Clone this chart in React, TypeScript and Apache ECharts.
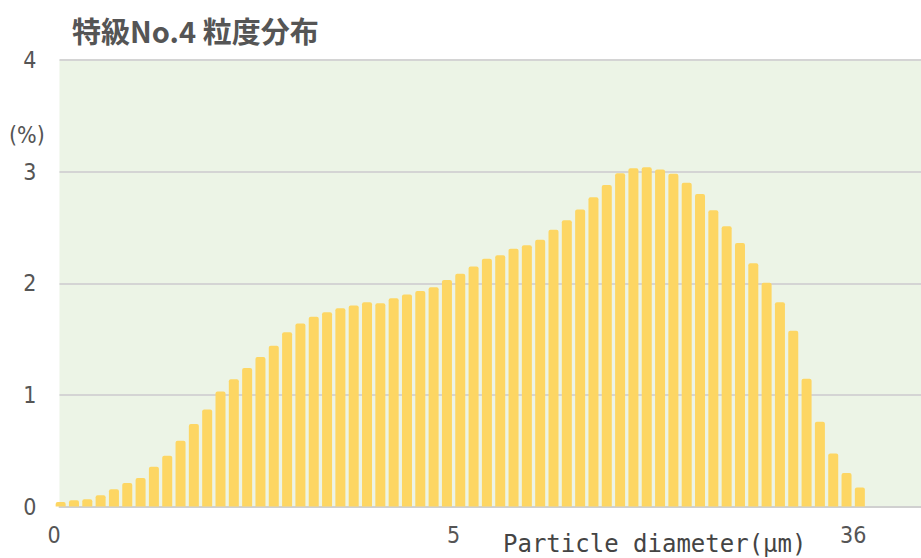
import React, { useEffect, useRef } from "react";
import * as echarts from "echarts";

// Particle size distribution (%), one value per size bin, left to right
const binValues: number[] = [
  0.04, 0.055, 0.065, 0.1, 0.155, 0.21, 0.255, 0.355, 0.455, 0.59,
  0.74, 0.87, 1.03, 1.14, 1.24, 1.34, 1.44, 1.56, 1.64, 1.7,
  1.74, 1.775, 1.8, 1.83, 1.82, 1.865, 1.9, 1.93, 1.965, 2.03,
  2.085, 2.15, 2.22, 2.25, 2.31, 2.34, 2.39, 2.48, 2.565, 2.66,
  2.77, 2.88, 2.985, 3.03, 3.04, 3.02, 2.98, 2.9, 2.8, 2.655,
  2.51, 2.36, 2.18, 2.005, 1.83, 1.575, 1.145, 0.76, 0.475, 0.3,
  0.17,
];

// x tick labels placed at bin boundaries
const xTickBoundaries: number[] = [0, 30, 60];
const xTickLabels: string[] = ["0", "5", "36"];

const yTicks: number[] = [0, 1, 2, 3, 4];

const titleText = "特級No.4 粒度分布";
const yUnitText = "(%)";
const xNameText = "Particle diameter(μm)";

const labelFont = "'Liberation Sans Narrow', 'DejaVu Sans Condensed', 'Liberation Sans', sans-serif";

export default function App() {
  const ref = useRef<HTMLDivElement>(null);

  useEffect(() => {
    if (!ref.current) return;
    const chart = echarts.init(ref.current, undefined, { renderer: "svg" });
    const xMax = 65.09;
    const barData = binValues.map((v, i) => [i + 0.5, v]);
    const labelMap: Record<number, string> = {};
    xTickBoundaries.forEach((b, i) => (labelMap[b] = xTickLabels[i]));

    chart.setOption({
      animation: false,
      backgroundColor: "#ffffff",
      title: {
        text: titleText,
        left: 67,
        top: 10,
        textStyle: {
          fontFamily: "'Noto Sans CJK JP', sans-serif",
          fontSize: 29,
          fontWeight: "bold",
          color: "#555555",
        },
      },
      grid: [
        {
          left: 59.5,
          right: 0,
          top: 60,
          bottom: 51.5,
          show: true,
          backgroundColor: "#ecf4e6",
          borderWidth: 0,
        },
        {
          left: 54,
          right: 0,
          top: 60,
          bottom: 51.5,
          show: false,
        },
      ],
      xAxis: [
        {
          type: "value",
          gridIndex: 0,
          min: 0.413,
          max: xMax,
          axisLine: { show: true, lineStyle: { color: "#d0d0d0", width: 2 } },
          axisTick: { show: false },
          axisLabel: { show: false },
          splitLine: { show: false },
        },
        {
          type: "value",
          gridIndex: 1,
          min: 0,
          max: xMax,
          interval: 30,
          axisLine: { show: false },
          axisTick: { show: false },
          splitLine: { show: false },
          axisLabel: {
            show: true,
            margin: 17,
            showMaxLabel: false,
            fontFamily: labelFont,
            fontSize: 23,
            color: "#555555",
            formatter: (v: number) => (labelMap[v] !== undefined ? labelMap[v] : ""),
          },
        },
      ],
      yAxis: [
        {
          type: "value",
          gridIndex: 0,
          min: yTicks[0],
          max: yTicks[yTicks.length - 1],
          interval: 1,
          axisLine: { show: false },
          axisTick: { show: false },
          axisLabel: {
            margin: 23,
            fontFamily: labelFont,
            fontSize: 23,
            color: "#555555",
          },
          splitLine: { show: true, lineStyle: { color: "#d4d4d4", width: 2 } },
        },
        {
          type: "value",
          gridIndex: 1,
          min: 0,
          max: 4,
          show: false,
        },
      ],
      graphic: [
        {
          type: "text",
          left: 9,
          top: 123,
          style: {
            text: yUnitText,
            fontFamily: labelFont,
            fontSize: 23,
            fill: "#555555",
          },
        },
        {
          type: "text",
          left: 503,
          top: 532,
          style: {
            text: xNameText,
            fontFamily: "'DejaVu Sans Mono', monospace",
            fontSize: 24,
            fill: "#444444",
          },
        },
      ],
      series: [
        {
          type: "bar",
          xAxisIndex: 0,
          yAxisIndex: 0,
          data: barData,
          barWidth: 10,
          clip: true,
          itemStyle: { color: "#fdd663", borderRadius: [2, 2, 0, 0] },
        },
      ],
    });

    return () => chart.dispose();
  }, []);

  return (
    <div
      ref={ref}
      style={{ position: "fixed", left: 0, top: 0, width: 921, height: 558 }}
    />
  );
}
